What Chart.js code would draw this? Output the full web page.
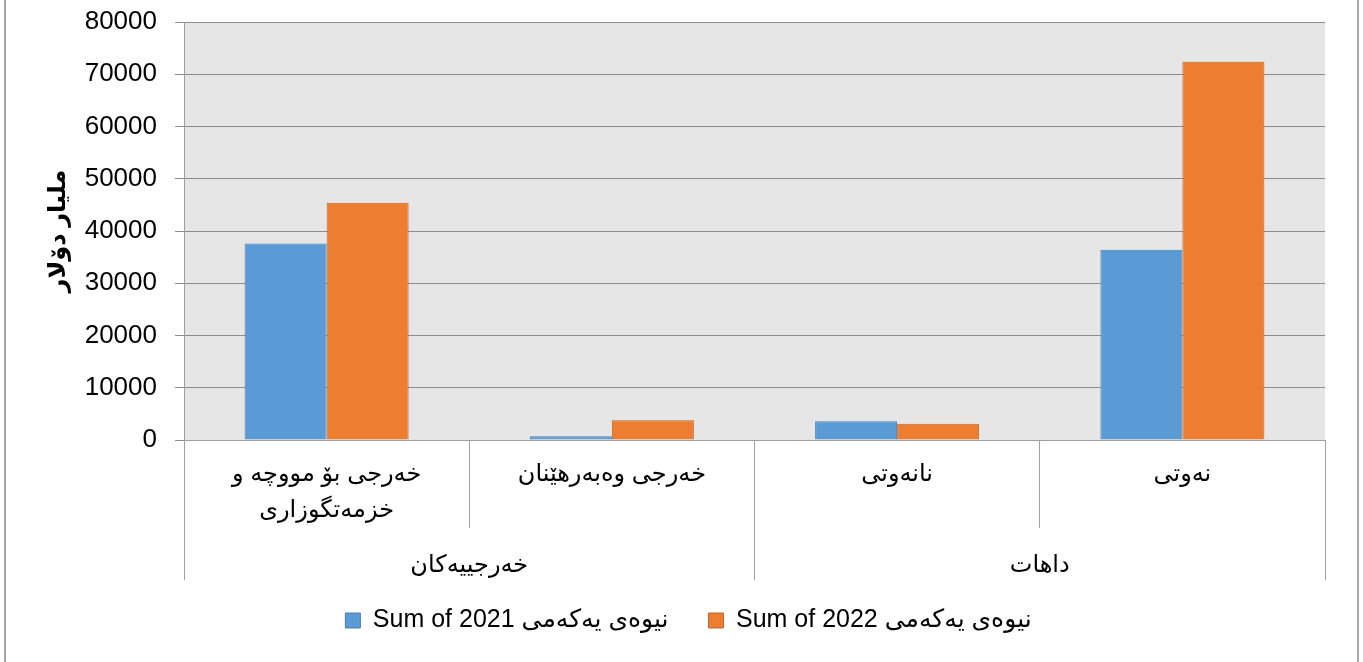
<!DOCTYPE html>
<html>
<head>
<meta charset="utf-8">
<script src="https://cdn.jsdelivr.net/npm/chart.js@4.4.1/dist/chart.umd.min.js"></script>
<style>
  html, body { margin: 0; padding: 0; background: #fff; }
  #wrap { position: relative; width: 1363px; height: 662px; }
  #frame { position: absolute; left: 4px; top: 0; width: 1351px; height: 662px;
           border-left: 2px solid #a6a6a6; border-right: 2px solid #a6a6a6; }
  canvas { position: absolute; left: 0; top: 0; }
</style>
</head>
<body>
<div id="wrap">
  <div id="frame"></div>
  <canvas id="chart" width="1363" height="662"></canvas>
</div>
<script>
// categories (bottom level) and their groups (second level)
const categories = [['خەرجی بۆ مووچە و', 'خزمەتگوزاری'], 'خەرجی وەبەرهێنان', 'نانەوتی', 'نەوتی'];
const groups = ['خەرجییەکان', 'داهات'];

// series
const sum2021 = [37600, 700, 3600, 36400];
const sum2022 = [45400, 3800, 3100, 72400];
const seriesNames = ['Sum of 2021 نیوەی یەکەمی', 'Sum of 2022 نیوەی یەکەمی'];

const yTitle = 'ملیار دۆلار';
const yMin = 0, yMax = 80000, yStep = 10000;

const FONT = '"Liberation Sans", Arial, "DejaVu Sans", sans-serif';
const LINE = '#a0a0a0';

// fond gris de la zone de tracé
const plotBg = {
  id: 'plotBg',
  beforeDraw(chart) {
    const { ctx, chartArea: a } = chart;
    ctx.save();
    ctx.fillStyle = '#e6e6e6';
    ctx.fillRect(a.left, a.top, a.right - a.left, a.bottom - a.top);
    ctx.restore();
  }
};

new Chart(document.getElementById('chart'), {
  type: 'bar',
  data: {
    labels: categories,
    datasets: [
      { label: seriesNames[0], data: sum2021, backgroundColor: '#5b9bd5', borderColor: '#4a7eb0', borderWidth: 1 },
      { label: seriesNames[1], data: sum2022, backgroundColor: '#ed7d31', borderColor: '#c0692c', borderWidth: 1 }
    ]
  },
  options: {
    responsive: false,
    animation: false,
    layout: { padding: { left: 52, right: 38, top: 22, bottom: 19 } },
    datasets: { bar: { categoryPercentage: 0.575, barPercentage: 1.0 } },
    plugins: {
      legend: {
        position: 'bottom',
        labels: {
          color: '#000',
          font: { family: FONT, size: 25 },
          boxWidth: 15, boxHeight: 15, padding: 40
        }
      },
      tooltip: { enabled: false }
    },
    scales: {
      x: {
        weight: 0,
        grid: { offset: true, drawOnChartArea: false, tickLength: 88, color: LINE, lineWidth: 1 },
        border: { display: true, color: LINE, width: 1 },
        ticks: { color: '#000', font: { family: FONT, size: 24, lineHeight: 1.5 }, padding: -72, maxRotation: 0, autoSkip: false },
        afterFit(s) { s.height = 88; }
      },
      x2: {
        type: 'category',
        position: 'bottom',
        weight: 1,
        labels: groups,
        offset: true,
        grid: { offset: true, drawOnChartArea: false, tickLength: 52, color: LINE, lineWidth: 1 },
        border: { display: false },
        // mirror: évite que les libellés soient coupés par la hauteur réduite de l'axe
        ticks: { mirror: true, color: '#000', font: { family: FONT, size: 24, lineHeight: 1.5 }, padding: -55, maxRotation: 0, autoSkip: false },
        afterFit(s) { s.height = 40; }
      },
      y: {
        min: yMin, max: yMax,
        ticks: { stepSize: yStep, color: '#000', font: { family: FONT, size: 26 }, padding: 18,
                 callback: (v) => String(v) },
        grid: { color: '#8c8c8c', lineWidth: 1, tickLength: 9 },
        border: { display: true, color: LINE, width: 1 },
        title: { display: true, text: yTitle, color: '#000', font: { family: FONT, size: 24, weight: 'bold' }, padding: { top: -8, bottom: 0 } },
        afterFit(s) { s.width = 132; s.paddingTop = 0; s.paddingBottom = 0; }
      }
    }
  },
  plugins: [plotBg]
});
</script>
</body>
</html>
